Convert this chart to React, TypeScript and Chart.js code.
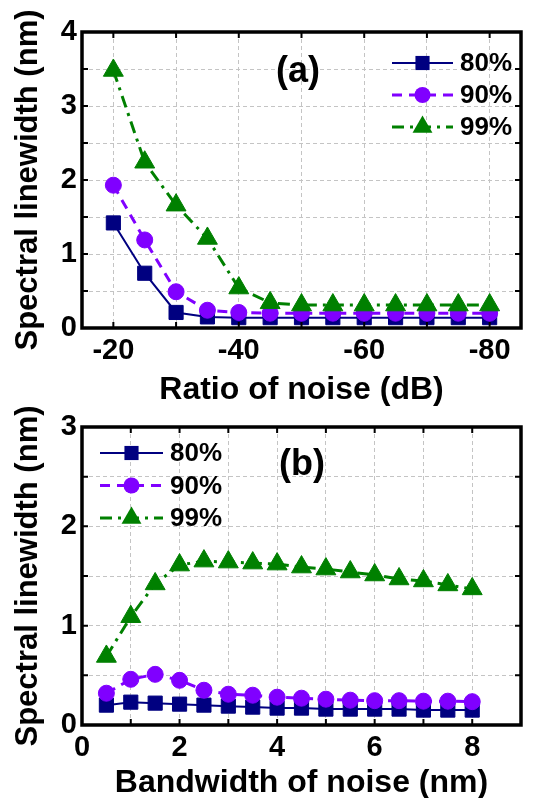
import React, { useEffect, useRef } from 'react';
import { Chart, registerables } from 'chart.js';

Chart.register(...registerables);

const FONT = '"Liberation Sans", Arial, Helvetica, sans-serif';
Chart.defaults.font.family = FONT;
Chart.defaults.color = '#000';

// ---------- data ----------
const seriesLabels = ['80%', '90%', '99%'];
const seriesColors = ['#000080', '#8000ff', '#008000'];
const seriesMarkers = ['rect', 'circle', 'triangle'];
const seriesRadius = [10, 8, 11.5];
const seriesDash: number[][] = [[], [10, 7], [12, 6, 3, 6]];
const seriesLineWidth = [2, 3, 3];

// (a) ratio of noise
const ratioDb = [-20, -25, -30, -35, -40, -45, -50, -55, -60, -65, -70, -75, -80];
const a80 = [1.42, 0.74, 0.21, 0.15, 0.14, 0.14, 0.14, 0.14, 0.14, 0.14, 0.14, 0.14, 0.14];
const a90 = [1.93, 1.19, 0.49, 0.24, 0.21, 0.2, 0.2, 0.2, 0.2, 0.2, 0.2, 0.2, 0.2];
const a99 = [3.48, 2.24, 1.66, 1.21, 0.54, 0.34, 0.31, 0.31, 0.31, 0.31, 0.31, 0.31, 0.31];
const aXGrid = [-20, -30, -40, -50, -60, -70, -80];
const aXLabels = [-20, -40, -60, -80];
const aYGrid = [0, 0.5, 1, 1.5, 2, 2.5, 3, 3.5, 4];
const aYLabels = [0, 1, 2, 3, 4];

// (b) bandwidth of noise
const bandwidthNm = [0.5, 1, 1.5, 2, 2.5, 3, 3.5, 4, 4.5, 5, 5.5, 6, 6.5, 7, 7.5, 8];
const b80 = [0.2, 0.23, 0.22, 0.21, 0.2, 0.19, 0.18, 0.17, 0.17, 0.16, 0.16, 0.16, 0.16, 0.15, 0.15, 0.15];
const b90 = [0.32, 0.46, 0.51, 0.45, 0.35, 0.31, 0.3, 0.28, 0.27, 0.26, 0.25, 0.245, 0.245, 0.24, 0.24, 0.235];
const b99 = [0.69, 1.09, 1.42, 1.61, 1.65, 1.64, 1.63, 1.62, 1.59, 1.57, 1.54, 1.51, 1.47, 1.45, 1.41, 1.37];
const bXGrid = [0, 1, 2, 3, 4, 5, 6, 7, 8];
const bXLabels = [0, 2, 4, 6, 8];
const bYGrid = [0, 0.5, 1, 1.5, 2, 2.5, 3];
const bYLabels = [0, 1, 2, 3];

// ---------- helpers ----------
function pathMarker(ctx: CanvasRenderingContext2D, style: string, x: number, y: number, r: number) {
  ctx.beginPath();
  if (style === 'rect') {
    const s = r * Math.SQRT1_2;
    ctx.rect(x - s, y - s, 2 * s, 2 * s);
  } else if (style === 'circle') {
    ctx.arc(x, y, r, 0, Math.PI * 2);
  } else {
    ctx.moveTo(x, y - r);
    ctx.lineTo(x + 0.866 * r, y + 0.5 * r);
    ctx.lineTo(x - 0.866 * r, y + 0.5 * r);
    ctx.closePath();
  }
}

const decoPlugin = {
  id: 'deco',
  afterDraw(chart: any, _args: any, opts: any) {
    const { ctx, chartArea, scales } = chart;
    const { left, right, top, bottom } = chartArea;
    ctx.save();
    // inward tick marks
    ctx.strokeStyle = '#000';
    ctx.lineWidth = 2;
    const tl = 6;
    scales.x.ticks.forEach((t: any) => {
      const px = scales.x.getPixelForValue(t.value);
      if (px <= left + 2 || px >= right - 2) return;
      ctx.beginPath();
      ctx.moveTo(px, bottom); ctx.lineTo(px, bottom - tl);
      ctx.moveTo(px, top); ctx.lineTo(px, top + tl);
      ctx.stroke();
    });
    scales.y.ticks.forEach((t: any) => {
      const py = scales.y.getPixelForValue(t.value);
      if (py <= top + 2 || py >= bottom - 2) return;
      ctx.beginPath();
      ctx.moveTo(left, py); ctx.lineTo(left + tl, py);
      ctx.moveTo(right, py); ctx.lineTo(right - tl, py);
      ctx.stroke();
    });
    // frame
    ctx.lineWidth = 3.5;
    ctx.strokeRect(left, top, right - left, bottom - top);

    // panel label
    ctx.fillStyle = '#000';
    ctx.font = `bold 36px ${FONT}`;
    ctx.textAlign = 'center';
    ctx.textBaseline = 'middle';
    ctx.fillText(opts.label, left + opts.labelDx, top + opts.labelDy);

    // legend
    const lg = opts.legend;
    chart.data.datasets.forEach((ds: any, i: number) => {
      const y = top + lg.dy + i * lg.row;
      const x0 = left + lg.dx;
      const x1 = x0 + lg.len;
      ctx.save();
      ctx.strokeStyle = ds.borderColor;
      ctx.lineWidth = ds.borderWidth;
      ctx.setLineDash(ds.borderDash || []);
      ctx.beginPath();
      ctx.moveTo(x0, y); ctx.lineTo(x1, y);
      ctx.stroke();
      ctx.setLineDash([]);
      pathMarker(ctx, ds.pointStyle, (x0 + x1) / 2, y, ds.pointRadius);
      ctx.fillStyle = ds.pointBackgroundColor;
      ctx.fill();
      ctx.restore();
      ctx.fillStyle = '#000';
      ctx.font = `bold 26px ${FONT}`;
      ctx.textAlign = 'left';
      ctx.textBaseline = 'middle';
      ctx.fillText(ds.label, x1 + lg.gap, y + 1);
    });
    ctx.restore();
  },
};

function makeDatasets(xs: number[], ys: number[][]) {
  return ys.map((vals, i) => ({
    label: seriesLabels[i],
    data: xs.map((x, j) => ({ x, y: vals[j] })),
    borderColor: seriesColors[i],
    backgroundColor: seriesColors[i],
    borderWidth: seriesLineWidth[i],
    borderDash: seriesDash[i],
    pointStyle: seriesMarkers[i],
    pointRadius: seriesRadius[i],
    pointBackgroundColor: seriesColors[i],
    pointBorderColor: seriesColors[i],
    pointBorderWidth: 1,
    tension: 0,
    fill: false,
    order: 2 - i,
  }));
}

function axisX(opts: any) {
  return {
    type: 'linear',
    reverse: !!opts.reverse,
    min: opts.min,
    max: opts.max,
    afterBuildTicks: (s: any) => { s.ticks = opts.grid.map((v: number) => ({ value: v })); },
    afterFit: (s: any) => { s.height = opts.height; },
    ticks: {
      autoSkip: false,
      maxRotation: 0,
      padding: 6,
      color: '#000',
      font: { size: 29, weight: 'bold' },
      callback: (v: number) => (opts.labels.includes(v) ? String(v) : ''),
    },
    grid: { color: '#c4c4c4', lineWidth: 1, drawTicks: false },
    border: { display: false, dash: [4, 3] },
    title: {
      display: true,
      text: opts.title,
      color: '#000',
      font: { size: 32, weight: 'bold' },
      padding: { top: 0, bottom: opts.titlePad },
    },
  };
}

function axisY(opts: any) {
  return {
    type: 'linear',
    min: opts.min,
    max: opts.max,
    afterBuildTicks: (s: any) => { s.ticks = opts.grid.map((v: number) => ({ value: v })); },
    afterFit: (s: any) => { s.width = 82; },
    ticks: {
      autoSkip: false,
      padding: 5,
      color: '#000',
      font: { size: 29, weight: 'bold' },
      callback: (v: number) => (opts.labels.includes(v) ? String(v) : ''),
    },
    grid: { color: '#c4c4c4', lineWidth: 1, drawTicks: false },
    border: { display: false, dash: [4, 3] },
    title: {
      display: true,
      text: 'Spectral linewidth (nm)',
      color: '#000',
      font: { size: 31, weight: 'bold' },
      padding: { top: 10, bottom: 0 },
    },
  };
}

const configA = () => ({
  type: 'line',
  data: { datasets: makeDatasets(ratioDb, [a80, a90, a99]) },
  plugins: [decoPlugin],
  options: {
    responsive: false,
    animation: false,
    layout: { padding: { top: 32, right: 25, left: 0, bottom: 0 } },
    scales: {
      x: axisX({ min: -85, max: -15, reverse: true, grid: aXGrid, labels: aXLabels, title: 'Ratio of noise (dB)', height: 82, titlePad: 1 }),
      y: axisY({ min: 0, max: 4, grid: aYGrid, labels: aYLabels }),
    },
    plugins: {
      legend: { display: false },
      tooltip: { enabled: false },
      deco: { label: '(a)', labelDx: 216, labelDy: 40, legend: { dx: 310, dy: 31, row: 32, len: 61, gap: 7 } },
    },
  },
});

const configB = () => ({
  type: 'line',
  data: { datasets: makeDatasets(bandwidthNm, [b80, b90, b99]) },
  plugins: [decoPlugin],
  options: {
    responsive: false,
    animation: false,
    layout: { padding: { top: 27, right: 25, left: 0, bottom: 0 } },
    scales: {
      x: axisX({ min: 0, max: 9, grid: bXGrid, labels: bXLabels, title: 'Bandwidth of noise (nm)', height: 85, titlePad: 8 }),
      y: axisY({ min: 0, max: 3, grid: bYGrid, labels: bYLabels }),
    },
    plugins: {
      legend: { display: false },
      tooltip: { enabled: false },
      deco: { label: '(b)', labelDx: 220, labelDy: 38, legend: { dx: 18, dy: 26, row: 32.5, len: 63, gap: 7 } },
    },
  },
});

function ChartCanvas({ config, top, height }: { config: () => any; top: number; height: number }) {
  const ref = useRef<HTMLCanvasElement | null>(null);
  useEffect(() => {
    if (!ref.current) return;
    const chart = new Chart(ref.current, config());
    return () => chart.destroy();
  }, []);
  return (
    <canvas
      ref={ref}
      width={546}
      height={height}
      style={{ position: 'absolute', left: 0, top, width: 546, height }}
    />
  );
}

export default function App() {
  return (
    <div style={{ position: 'fixed', left: 0, top: 0, width: 546, height: 798, overflow: 'hidden', background: '#fff' }}>
      <ChartCanvas config={configA} top={0} height={410} />
      <ChartCanvas config={configB} top={400} height={410} />
    </div>
  );
}
